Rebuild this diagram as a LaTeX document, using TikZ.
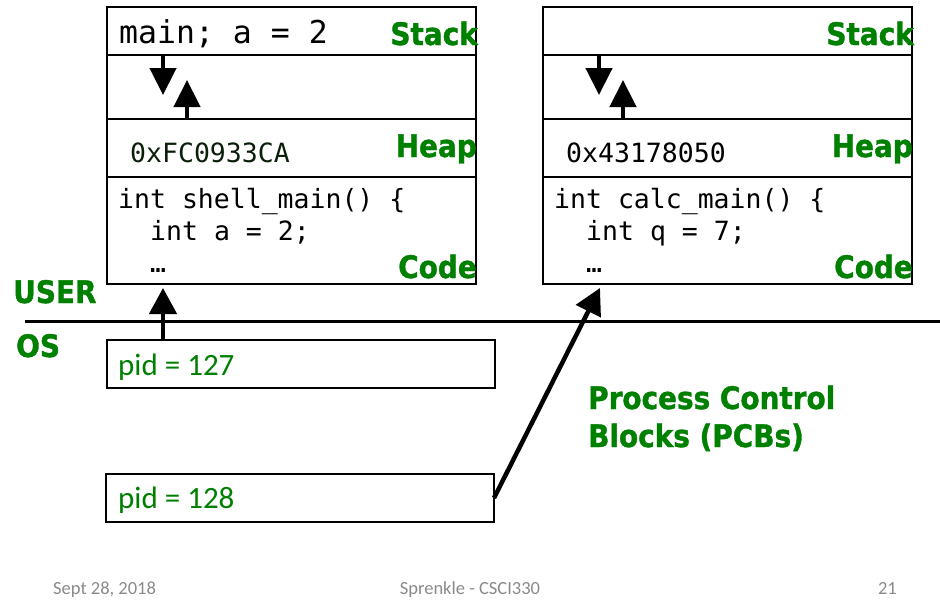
\documentclass[tikz,border=0pt]{standalone}
\usepackage{fontspec}
\setmainfont{Carlito}
\newfontfamily\lblfont[FakeStretch=0.9,BoldFeatures={FakeStretch=0.9,FakeBold=1.2}]{DejaVu Sans}
\newfontfamily\codefont{DejaVu Sans Mono}
\usetikzlibrary{arrows.meta,positioning,calc}
\definecolor{Green}{HTML}{008000}
\definecolor{Gray}{HTML}{8A8A8A}
\definecolor{Ink}{HTML}{0A1E0A}
\tikzset{
  seg/.style={draw,line width=2.6pt,minimum width=369pt,minimum height=#1,
    anchor=north west,inner sep=0pt,outer sep=0pt},
  pcb/.style={draw,line width=2.6pt,minimum width=388pt,minimum height=48pt,
    anchor=north west,inner sep=0pt,outer sep=0pt},
  tag/.style={inner sep=0pt,text=Green,font=\lblfont\bfseries\fontsize{31}{31}\selectfont},
  code/.style={inner sep=0pt,anchor=base west,font=\codefont\fontsize{26.5}{26.5}\selectfont},
  pidtxt/.style={inner sep=0pt,anchor=base west,text=Green,font=\fontsize{31}{31}\selectfont},
  foot/.style={inner sep=0pt,text=Gray,font=\fontsize{18.5}{18.5}\selectfont},
  growarrow/.style={-{Triangle[length=27pt,width=26pt]},line width=4.5pt},
  arrow/.style={-{Triangle[length=26pt,width=27pt]},line width=4.5pt}
}
\begin{document}
\begin{tikzpicture}[x=1pt,y=-1pt]
  \useasboundingbox (0,0) rectangle (940,613);

  % shell process
  \node[seg=48pt] (stackA) at (107,7) {};
  \node[seg=64pt] (gapA) at (107,55) {};
  \node[seg=58pt] (heapA) at (107,119) {};
  \node[seg=107pt] (codeA) at (107,177) {};
  \node[code,font=\codefont\fontsize{31.5}{31.5}\selectfont] (varA) at (119,43) {main; a = 2};
  \node[code,text=Ink] (addrA) at (130,162) {0xFC0933CA};
  \node[code] (lineA1) at (118,208) {int shell\_main() \{};
  \node[code] (lineA2) at (150,240) {int a = 2;};
  \node[code] (lineA3) at (150,272) {…};
  \node[tag,anchor=base east] (stkA) at (478,45) {Stack};
  \node[tag,anchor=base east] (hpA) at (477,157) {Heap};
  \node[tag,anchor=base east] (cdA) at (477,278) {Code};
  \coordinate (dnA) at (163,95);
  \coordinate (upA) at (187,80);
  \draw[growarrow] ([xshift=56pt]gapA.north west) -- (dnA);
  \draw[growarrow] ([xshift=80pt]gapA.south west) -- (upA);

  % calc process
  \node[seg=48pt] (stackB) at (543,7) {};
  \node[seg=64pt] (gapB) at (543,55) {};
  \node[seg=58pt] (heapB) at (543,119) {};
  \node[seg=107pt] (codeB) at (543,177) {};
  \node[code] (addrB) at (566,162) {0x43178050};
  \node[code] (lineB1) at (554,208) {int calc\_main() \{};
  \node[code] (lineB2) at (586,240) {int q = 7;};
  \node[code] (lineB3) at (586,272) {…};
  \node[tag,anchor=base east] (stkB) at (914,45) {Stack};
  \node[tag,anchor=base east] (hpB) at (913,157) {Heap};
  \node[tag,anchor=base east] (cdB) at (913,278) {Code};
  \coordinate (dnB) at (599,95);
  \coordinate (upB) at (623,80);
  \draw[growarrow] ([xshift=56pt]gapB.north west) -- (dnB);
  \draw[growarrow] ([xshift=80pt]gapB.south west) -- (upB);

  % user / os split
  \coordinate (splitL) at (25,321);
  \coordinate (splitR) at (940,321);
  \draw[line width=3pt] (splitL) -- (splitR);
  \node[tag,anchor=base west] (user) at (13,303) {USER};
  \node[tag,anchor=base west] (os) at (16,357) {OS};

  % PCBs
  \node[pcb] (pidA) at (107,340) {};
  \node[pcb] (pidB) at (106,474) {};
  \node[pidtxt] (pidAtxt) at (118,375) {pid = 127};
  \node[pidtxt] (pidBtxt) at (118,508) {pid = 128};
  \draw[arrow] ([xshift=56pt]pidA.north west) -- ([xshift=56pt,yshift=-4pt]codeA.south west);
  \draw[arrow] (pidB.east) -- ([xshift=57pt,yshift=-4pt]codeB.south west);
  \node[tag,anchor=base west] (pcbs) at (588,409) {Process Control};
  \node[tag,anchor=base west] (pcbs2) at (588,447) {Blocks (PCBs)};

  % footer
  \node[foot,anchor=base west] (date) at (53,594) {Sept 28, 2018};
  \node[foot,anchor=base] (course) at (470,594) {Sprenkle - CSCI330};
  \node[foot,anchor=base east] (page) at (897,594) {21};
\end{tikzpicture}
\end{document}
